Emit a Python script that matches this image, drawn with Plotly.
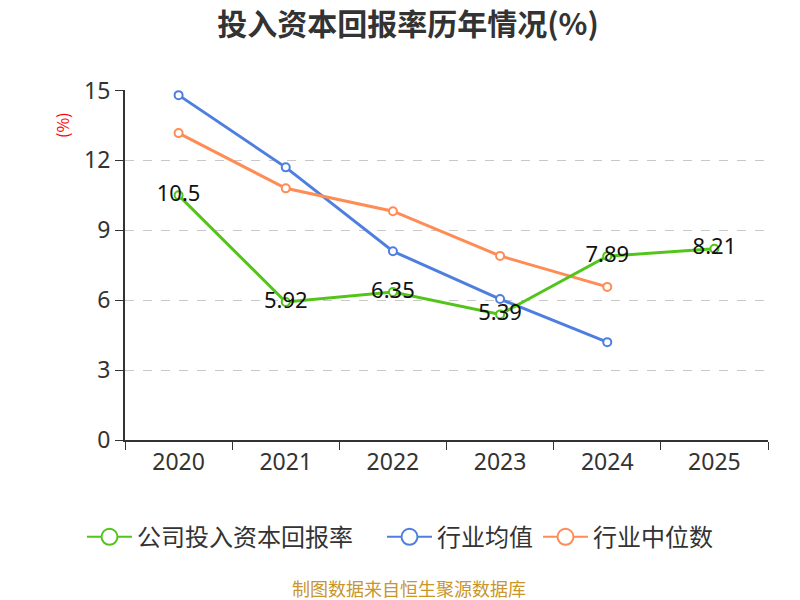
import plotly.graph_objects as go

#### data ####
years = ['2020', '2021', '2022', '2023', '2024', '2025']
company = [10.5, 5.92, 6.35, 5.39, 7.89, 8.21]
ind_avg = [14.8, 11.7, 8.1, 6.05, 4.2]
ind_median = [13.17, 10.8, 9.82, 7.9, 6.57]
y_ticks = [0, 3, 6, 9, 12, 15]

green = '#52c41a'
blue = '#4e7fe0'
orange = '#ff8c55'
font = 'Noto Sans CJK SC'
num_font = 'Noto Sans'

fig = go.Figure()

def add_line(x, y, name, color, labels=False):
    fig.add_trace(go.Scatter(
        x=x, y=y, name=name, showlegend=False,
        mode='lines+markers+text' if labels else 'lines+markers',
        line=dict(color=color, width=3),
        marker=dict(symbol='circle', size=8, color='white',
                    line=dict(color=color, width=2)),
        text=[str(v) for v in y] if labels else None,
        textposition='middle center',
        textfont=dict(size=22, color='#111', family=num_font),
        cliponaxis=False,
    ))

def add_legend(name, color):
    # empty trace only for a bigger legend symbol
    fig.add_trace(go.Scatter(
        x=[None], y=[None], name=name, mode='lines+markers',
        line=dict(color=color, width=2),
        marker=dict(symbol='circle', size=22, color='white',
                    line=dict(color=color, width=2)),
    ))

add_line(years[:5], ind_avg, '行业均值', blue)
add_line(years[:5], ind_median, '行业中位数', orange)
add_line(years, company, '公司投入资本回报率', green, labels=True)
add_legend('公司投入资本回报率\u3000', green)
add_legend('行业均值', blue)
add_legend('行业中位数', orange)

# page body has an 8px margin, so layout is shifted up/left by 8px
fig.update_layout(
    width=800, height=600,
    paper_bgcolor='white', plot_bgcolor='white',
    margin=dict(l=117, r=40, t=82, b=168),
    font=dict(family=font, color='#333'),
    title=dict(text='<b>投入资本回报率历年情况(%)</b>', x=0.5, xanchor='center',
               y=0.972, yanchor='middle', font=dict(size=30, color='#333')),
    showlegend=True,
    legend=dict(orientation='h', xref='container', x=0.49, xanchor='center',
                yref='container', y=0.118, yanchor='middle',
                font=dict(size=24, color='#333'), traceorder='normal',
                itemwidth=45),
)
fig.update_xaxes(
    type='category', categoryorder='array', categoryarray=years,
    range=[-0.5, 5.5],
    showline=True, linecolor='#333', linewidth=2,
    ticks='outside', tickson='boundaries', ticklen=8, tickcolor='#333',
    tickfont=dict(size=23, color='#333', family=num_font), showgrid=False,
)
fig.update_yaxes(
    range=[0, 15.02], tickvals=y_ticks,
    showline=True, linecolor='#333', linewidth=2,
    ticks='outside', ticklen=8, tickcolor='#333',
    tickfont=dict(size=23, color='#333', family=num_font),
    showgrid=True, gridcolor='#c8c8c8', griddash='dash', gridwidth=1,
    zeroline=False,
)
fig.add_annotation(text='(%)', xref='paper', yref='paper', x=-0.098, y=0.90,
                   xanchor='center', yanchor='middle',
                   showarrow=False, textangle=-90,
                   font=dict(size=16, color='red', family=font))
fig.add_annotation(text='制图数据来自恒生聚源数据库', xref='paper', yref='paper',
                   x=0.441, y=-0.423, xanchor='center', yanchor='middle',
                   showarrow=False,
                   font=dict(size=18, color='#c9962b', family=font))

fig.write_html('out.html')
